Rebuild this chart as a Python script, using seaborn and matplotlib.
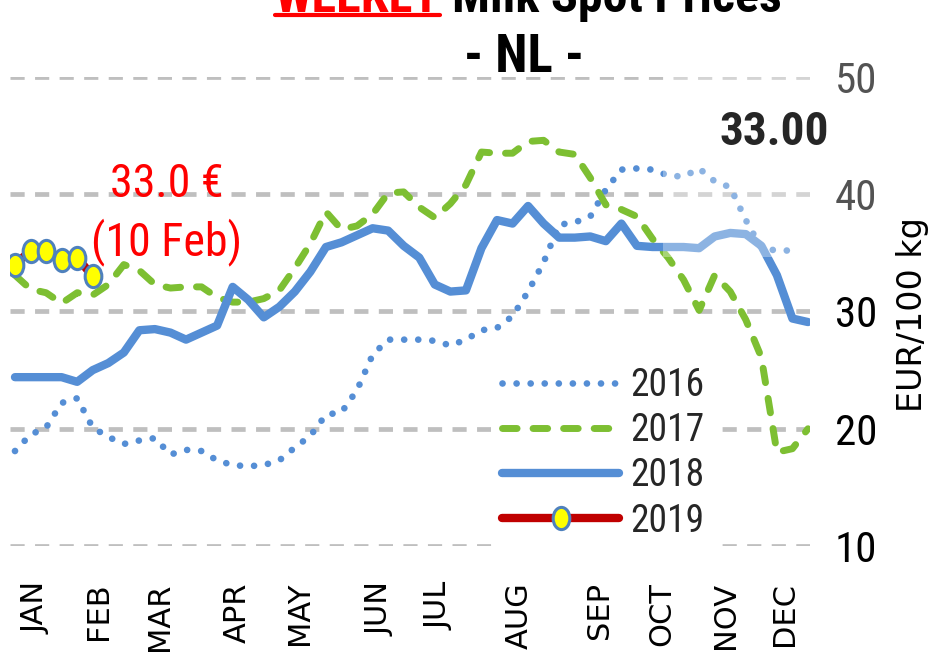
import numpy as np
import seaborn as sns
import matplotlib.pyplot as plt
from matplotlib import font_manager
from matplotlib.lines import Line2D
from matplotlib.patches import Rectangle
from matplotlib.path import Path
from matplotlib.transforms import Affine2D

# Weekly milk spot prices NL, EUR/100 kg (index 0 = first week of January)
y2016 = [18.1, 19.5, 20.1, 22.2, 22.6, 20.1, 19.3, 18.7, 19.0, 19.2,
         17.8, 18.2, 18.1, 17.3, 16.9, 16.8, 16.9, 17.3, 18.4, 19.4,
         21.2, 21.4, 23.3, 26.3, 27.6, 27.6, 27.6, 27.5, 27.1, 27.6,
         28.4, 28.6, 29.6, 31.7, 34.2, 37.4, 37.6, 38.1, 40.4, 42.1,
         42.2, 42.1, 41.6, 41.5, 42.2, 41.1, 40.6, 37.8, 35.4, 35.2,
         35.2]
y2017 = [33.1, 31.9, 31.6, 30.7, 31.6, 31.4, 32.3, 34.0, 33.5, 32.3,
         32.0, 32.1, 32.1, 31.2, 30.8, 30.8, 31.1, 31.8, 33.7, 35.8,
         38.5, 37.0, 37.3, 38.3, 40.1, 40.2, 38.9, 38.0, 39.2, 40.8,
         43.6, 43.5, 43.5, 44.5, 44.6, 43.6, 43.4, 41.4, 39.1, 38.7,
         38.1, 36.2, 34.6, 32.7, 30.1, 33.1, 31.7, 29.3, 26.1, 18.0,
         18.3, 20.0]
y2018 = [24.4, 24.4, 24.4, 24.4, 24.0, 25.0, 25.6, 26.5, 28.4, 28.5,
         28.2, 27.6, 28.2, 28.8, 32.1, 31.0, 29.5, 30.4, 31.7, 33.4,
         35.5, 35.9, 36.5, 37.1, 36.9, 35.6, 34.6, 32.3, 31.7, 31.8,
         35.4, 37.8, 37.5, 39.0, 37.5, 36.3, 36.3, 36.4, 36.0, 37.5,
         35.6, 35.5, 35.5, 35.5, 35.4, 36.4, 36.7, 36.6, 35.6, 33.1,
         29.4, 29.1]
y2019 = [34.0, 35.2, 35.2, 34.4, 34.6, 33.0]

years = ["2016", "2017", "2018", "2019"]
months = ["JAN", "FEB", "MAR", "APR", "MAY", "JUN",
          "JUL", "AUG", "SEP", "OCT", "NOV", "DEC"]
month_weeks = [1.35, 5.4, 9.3, 14.3, 18.3, 23.5, 27.3, 32.4, 37.6, 41.6, 45.7, 49.5]
yticks = [10, 20, 30, 40, 50]

last_price = "33.00"
note_price = "33.0 €"
note_date = "(10 Feb)"

sns.set_style("white")

# condensed font for numbers, like the original
installed = {f.name for f in font_manager.fontManager.ttflist}
narrow = next((f for f in ["Liberation Sans Narrow", "Roboto Condensed", "Liberation Sans"]
               if f in installed), "DejaVu Sans")
plt.rcParams["font.family"] = ["DejaVu Sans"]

blue = "#558ed5"
green = "#7dbf32"

fig = plt.figure(figsize=(9.34, 6.62), dpi=100)
ax = fig.add_axes([10 / 934, 1 - 546 / 662, 800 / 934, 469 / 662])

sns.lineplot(x=np.arange(len(y2016)), y=y2016, ax=ax, color=blue, linewidth=4.8,
             linestyle=(0, (0.01, 2.1)), dash_capstyle="round", label=years[0])
sns.lineplot(x=np.arange(len(y2017)), y=y2017, ax=ax, color=green, linewidth=5.0,
             linestyle=(0, (2.1, 2.3)), dash_capstyle="round", label=years[1])
sns.lineplot(x=np.arange(len(y2018)), y=y2018, ax=ax, color=blue, linewidth=6.0,
             solid_capstyle="round", solid_joinstyle="round", label=years[2])

ellipse = Path.unit_circle().transformed(Affine2D().scale(0.75, 1.0))
sns.lineplot(x=np.arange(len(y2019)), y=y2019, ax=ax, color="#c00000", linewidth=6.0,
             solid_capstyle="round", marker=ellipse, markersize=16,
             markerfacecolor="#ffff00", markeredgecolor="#4f81bd",
             markeredgewidth=2.2, label=years[3])

ax.set_xlim(-0.32, 51.13)
ax.set_ylim(10, 50)
ax.set_xticks(month_weeks, months, rotation=90)
ax.set_yticks(yticks)
ax.yaxis.tick_right()
ax.tick_params(axis="x", length=0, pad=26, labelsize=22, labelcolor="black")
ax.tick_params(axis="y", length=0, pad=18, labelsize=31, labelcolor="black")
for t in ax.get_yticklabels():
    t.set_family(narrow)
ax.set_xlabel("")
ax.set_ylabel("EUR/100 kg", fontsize=24, color="black")
ax.yaxis.set_label_position("right")
ax.yaxis.set_label_coords(1.107, 0.4925)

ax.grid(axis="y", color="#bfbfbf", linewidth=3.4, linestyle=(0, (3.0, 2.2)))
ax.grid(axis="x", visible=False)
ax.set_axisbelow(True)
sns.despine(ax=ax, left=True, bottom=True, right=True, top=True)

handles = ax.get_lines()
leg_lines = [h for h in handles if h.get_label() in years]
leg = ax.legend(handles=leg_lines, labels=years, loc="center",
                bbox_to_anchor=(0.742, 0.198), frameon=True, facecolor="white",
                edgecolor="none", framealpha=1, handlelength=3.1,
                handletextpad=0.32, labelspacing=0.22, borderpad=0.3,
                prop={"family": narrow, "size": 27})

# annotation of the latest 2019 price
ax.text(0.196, 0.744, note_price, transform=ax.transAxes, color="red",
        fontsize=33, family=narrow, ha="center", va="baseline")
ax.text(0.196, 0.6205, note_date, transform=ax.transAxes, color="red",
        fontsize=33, family=narrow, ha="center", va="baseline")

# translucent box with the last price (greys out the top right)
fig.add_artist(Rectangle((663 / 934, 1 - 257 / 662), (885 - 663) / 934, (257 - 62) / 662,
                         transform=fig.transFigure, facecolor="white", alpha=0.33,
                         edgecolor="none", zorder=5))
fig.text(774 / 934, 1 - 145 / 662, last_price, fontsize=34, fontweight="bold",
         family=narrow, ha="center", va="baseline", zorder=6)

# title, first line is cut by the top edge
t1 = fig.text(440 / 934, 1 - 12 / 662, "WEEKLY", color="red", fontsize=36,
              fontweight="bold", family=narrow, ha="right", va="baseline")
fig.text(452 / 934, 1 - 12 / 662, "Milk Spot Prices", color="black", fontsize=36,
         fontweight="bold", family=narrow, ha="left", va="baseline")
fig.text(524 / 934, 1 - 72 / 662, "- NL -", color="black", fontsize=38,
         fontweight="bold", family=narrow, ha="center", va="baseline")

fig.canvas.draw()
bb = t1.get_window_extent().transformed(fig.transFigure.inverted())
uy = 1 - 15 / 662
fig.add_artist(Line2D([bb.x0, bb.x1], [uy, uy], transform=fig.transFigure,
                      color="red", linewidth=3))

fig.savefig("out.png", dpi=100)
